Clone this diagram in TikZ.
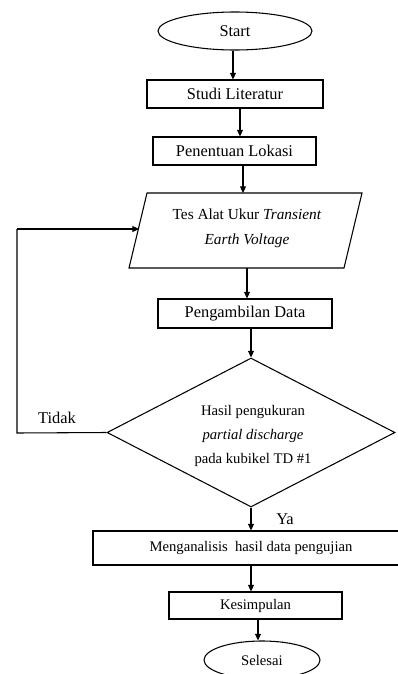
\documentclass[tikz,border=0pt]{standalone}
\usepackage{fontspec}
\setmainfont{Liberation Serif}
\usetikzlibrary{shapes.geometric,arrows.meta}
\begin{document}
\begin{tikzpicture}[x=0.75pt,y=-0.75pt,
  every node/.style={font=\fontsize{11}{18}\selectfont},
  big/.style={font=\fontsize{12.3}{18}\selectfont},
  line/.style={line width=0.8pt,draw=black},
  arr/.style={line width=0.8pt,-{Triangle[length=5pt,width=4.5pt]}},
  boxnode/.style={draw,line width=0.8pt,rectangle,inner sep=0pt},
  ovalnode/.style={draw,line width=0.8pt,ellipse,inner sep=0pt},
  lbl/.style={inner sep=0pt}]
\useasboundingbox (0,0) rectangle (398,674);
% terminals and boxes
\node[ovalnode,big,minimum width=154*0.75pt,minimum height=38*0.75pt] (start) at (235,31) {Start};
\node[boxnode,big,minimum width=176*0.75pt,minimum height=28*0.75pt] (studi) at (235,94) {Studi Literatur};
\node[boxnode,big,minimum width=163*0.75pt,minimum height=28*0.75pt] (lokasi) at (234.5,151) {Penentuan Lokasi};
% parallelogram
\coordinate (pTL) at (147,193);
\coordinate (pTR) at (362,193);
\coordinate (pBR) at (344,268);
\coordinate (pBL) at (129,268);
\draw[line] (pTL) -- (pTR) -- (pBR) -- (pBL) -- cycle;
\node[lbl,align=center,font=\fontsize{11.5}{18.5}\selectfont] (tes) at (247,228) {Tes Alat Ukur \textit{Transient}\\\textit{Earth Voltage}};
\coordinate (ptop) at (243,193);
\coordinate (pbot) at (247,268);
\coordinate (pin) at (139,229);
\node[boxnode,big,minimum width=174*0.75pt,minimum height=29*0.75pt] (ambil) at (245,313.5) {Pengambilan Data};
% decision
\node[draw,line width=0.8pt,diamond,inner sep=0pt,minimum width=288*0.75pt,minimum height=149*0.75pt] (dec) at (251,432.5) {};
\node[lbl,align=center] (dectext) at (253,436) {Hasil pengukuran\\\textit{partial discharge}\\pada kubikel TD \#1};
\node[lbl,big] (tidak) at (57,418) {Tidak};
\node[lbl,big] (ya) at (285,519) {Ya};
\coordinate (lb) at (17,433);
\coordinate (lt) at (17,229);
\node[boxnode,minimum width=316*0.75pt,minimum height=34*0.75pt] (analisis) at (251,548) {Menganalisis\ \ hasil data pengujian};
\node[boxnode,minimum width=173*0.75pt,minimum height=27*0.75pt] (kesimpulan) at (255.5,605.5) {Kesimpulan};
\node[ovalnode,minimum width=116*0.75pt,minimum height=38*0.75pt] (selesai) at (262,660) {Selesai};
% connectors
\draw[arr] (start.south -| 233,0) -- (studi.north -| 233,0);
\draw[arr] (studi.south -| 240,0) -- (lokasi.north -| 240,0);
\draw[arr] (lokasi.south -| ptop) -- (ptop);
\draw[arr] (pbot) -- (ambil.north -| pbot);
\draw[arr] (ambil.south -| dec.north) -- (dec.north);
\draw[arr] (dec.south) -- (analisis.north -| dec.south);
\draw[arr] (analisis.south -| dec.south) -- (kesimpulan.north -| dec.south);
\draw[arr] (kesimpulan.south -| 258,0) -- (selesai.north -| 258,0);
\draw[line] (dec.west) -- (lb) -- (lt);
\draw[arr] (lt) -- (pin);
\end{tikzpicture}
\end{document}
